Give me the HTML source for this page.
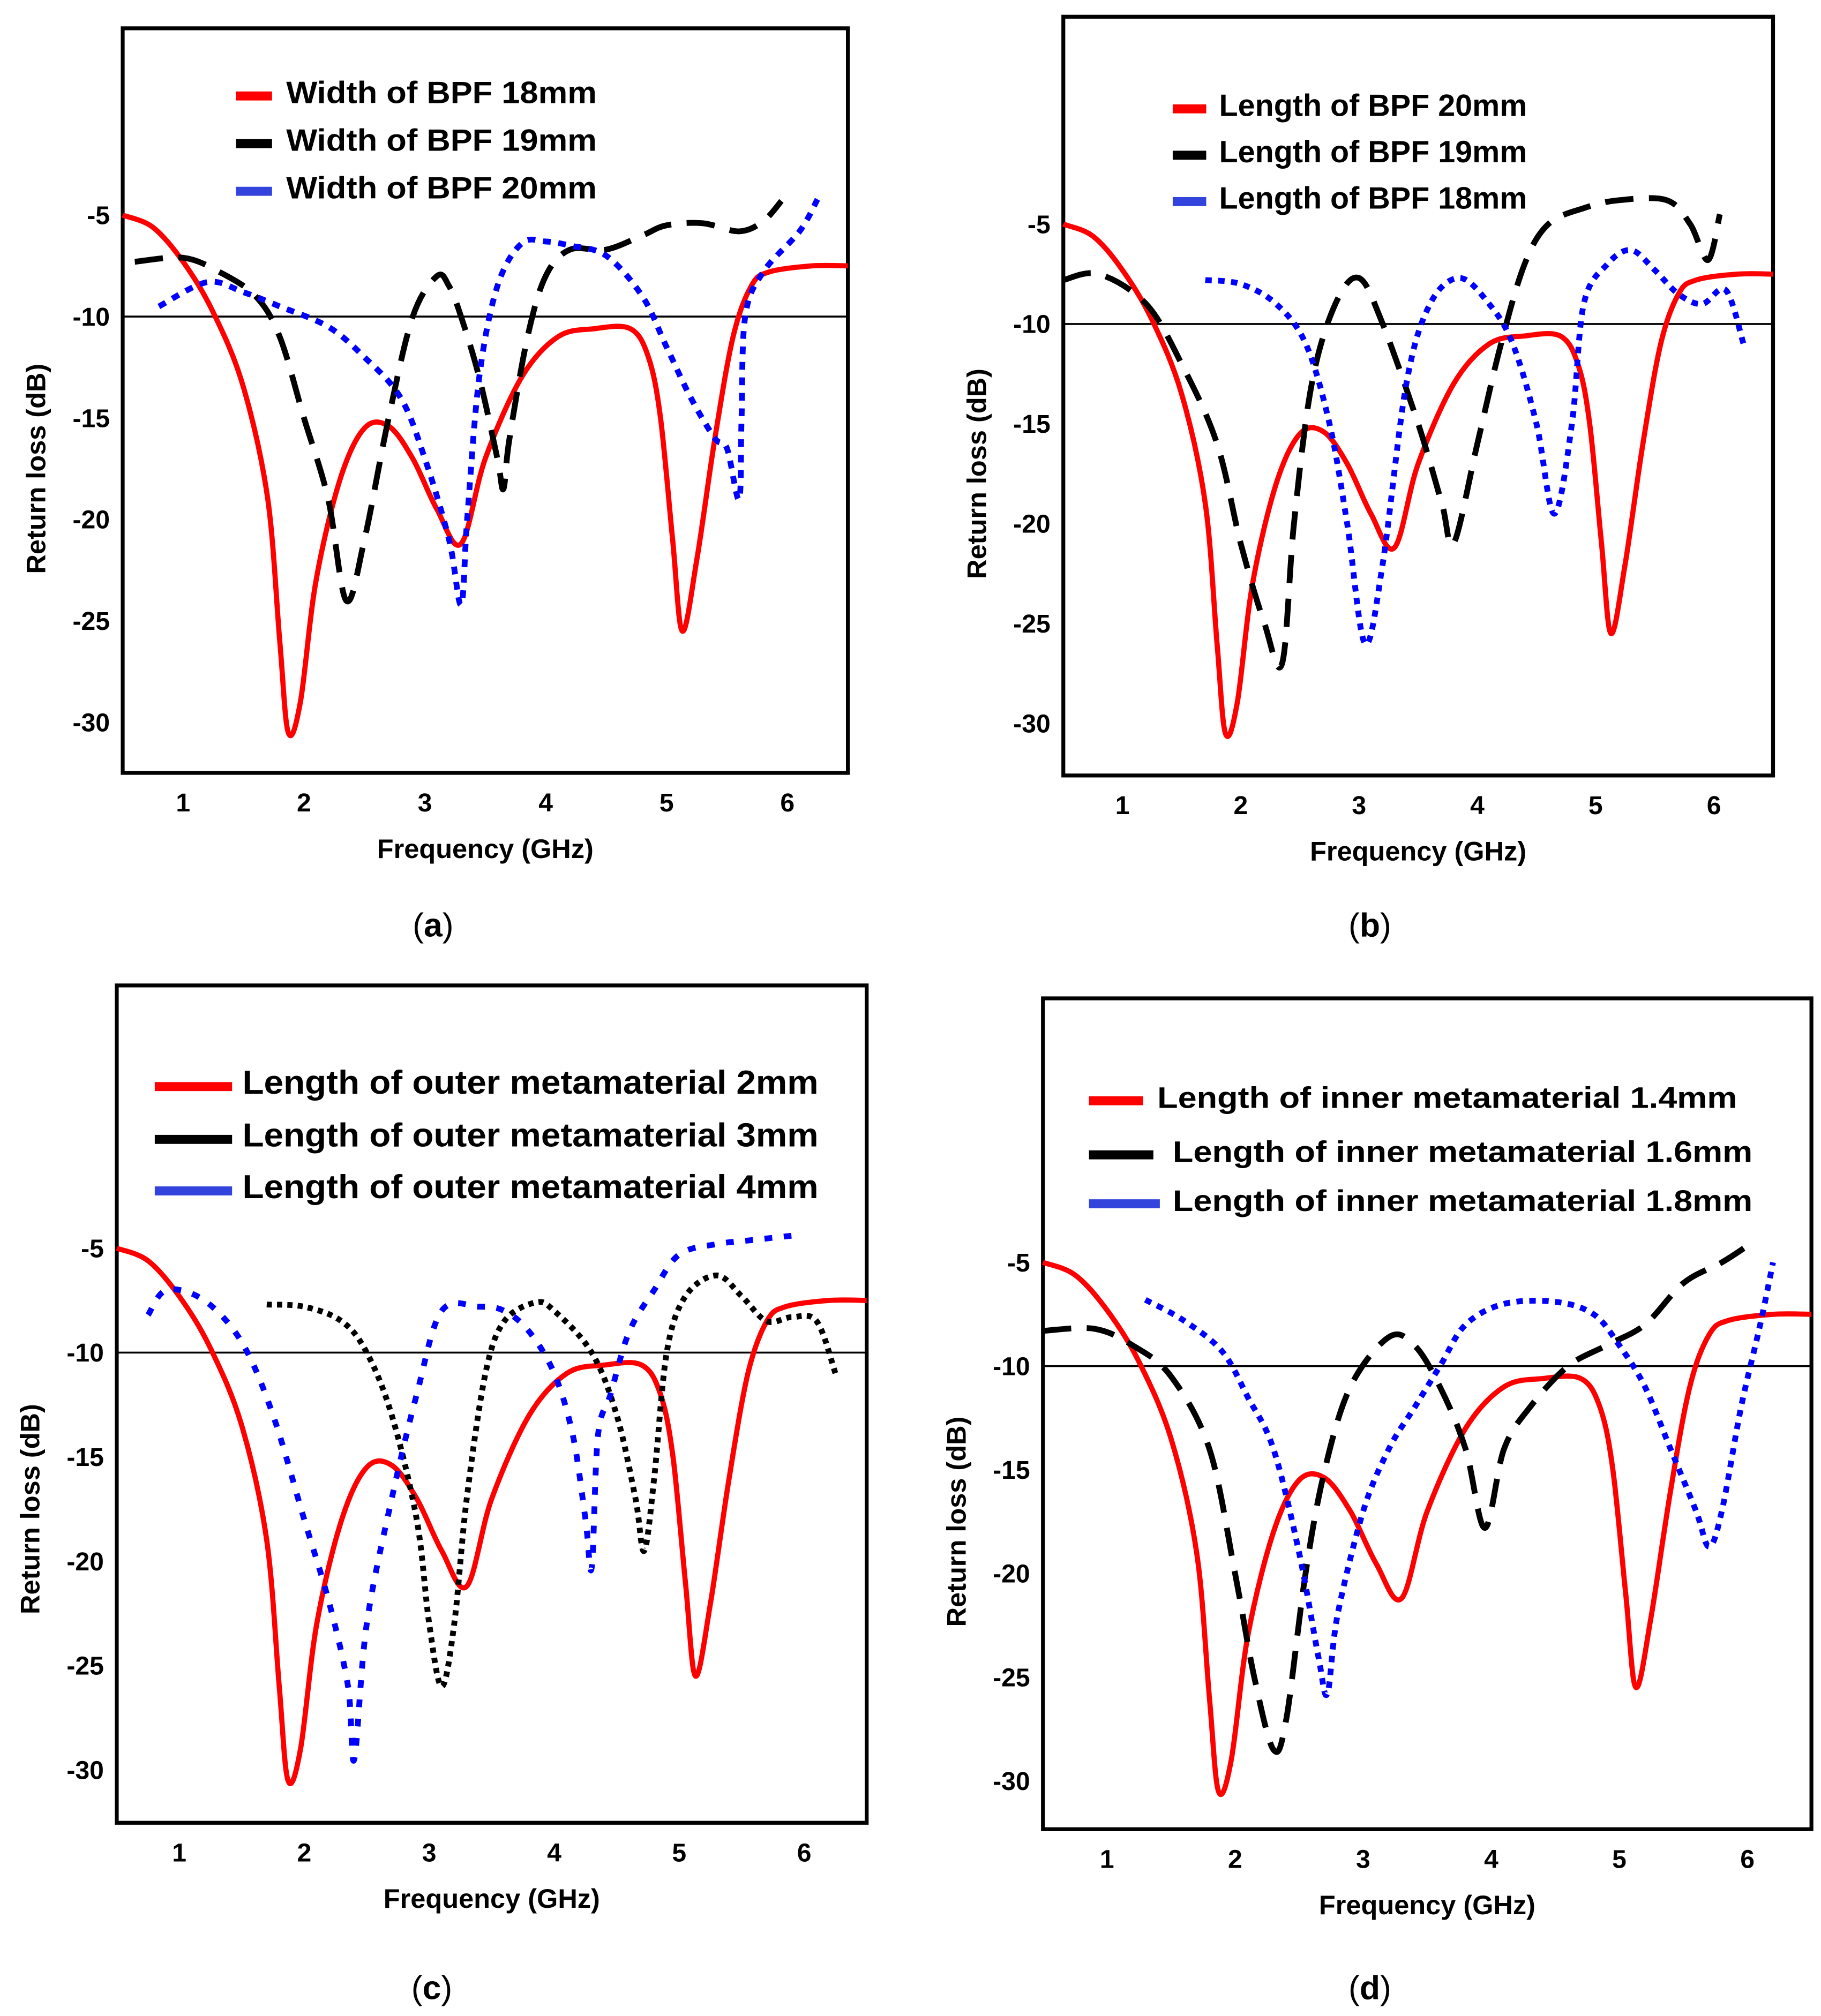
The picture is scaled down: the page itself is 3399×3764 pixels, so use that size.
<!DOCTYPE html>
<html><head><meta charset="utf-8">
<style>
html,body{margin:0;padding:0;background:#fff;}
svg{display:block;}
text{font-family:"Liberation Sans",Arial,sans-serif;}
</style></head>
<body>
<svg id="fig" width="3399" height="3764" viewBox="0 0 1413 1565" xmlns="http://www.w3.org/2000/svg"></svg>
<script>
// Shared red curve data (GHz, dB)
const redF = [0.5,0.75,1,1.25,1.5,1.7,1.8,1.87,1.97,2.1,2.3,2.5,2.7,2.9,3.1,3.3,3.5,3.8,4.1,4.4,4.7,4.85,4.95,5.05,5.13,5.25,5.4,5.55,5.7,5.85,6.2,6.5];
const redV = [-5,-5.6,-7.3,-9.8,-13.5,-19,-26,-30.5,-29,-23,-18,-15.5,-15.4,-17,-19.5,-21.2,-17,-13,-11,-10.6,-10.6,-12,-15,-21,-25.5,-22,-16,-11,-8.5,-7.8,-7.5,-7.5];

const aBlackF=[0.6,1.0,1.3,1.6,1.8,2.0,2.2,2.35,2.5,2.7,2.9,3.1,3.2,3.3,3.45,3.6,3.65,3.7,3.85,4.0,4.2,4.5,4.8,5.0,5.3,5.6,5.8,5.95];
const aBlackV=[-7.3,-7.1,-7.8,-9,-11,-15,-19,-24,-21,-15,-10,-8,-8.5,-10,-13,-17,-18.5,-16,-11,-8,-6.7,-6.7,-6,-5.5,-5.4,-5.8,-5.3,-4.3];
const aBlueF=[0.8,1.2,1.5,1.8,2.2,2.5,2.8,3.0,3.2,3.3,3.35,3.45,3.6,3.8,4.0,4.2,4.5,4.8,5.0,5.2,5.4,5.5,5.6,5.62,5.65,5.8,6.1,6.25];
const aBlueV=[-9.5,-8.3,-8.8,-9.5,-10.5,-12,-14,-17,-21,-24.2,-20,-13,-8.5,-6.4,-6.3,-6.5,-7,-9,-11.5,-14,-16,-16.5,-19,-15,-10,-7.8,-5.8,-4.2];

const bBlackF=[0.5,0.8,1.2,1.5,1.8,2.0,2.2,2.35,2.45,2.6,2.8,3.0,3.2,3.5,3.7,3.8,4.0,4.2,4.4,4.6,4.9,5.2,5.6,5.8,5.95,6.05];
const bBlackV=[-7.8,-7.5,-9,-12,-16,-21,-25,-27,-20,-13,-9,-7.7,-10,-15,-19,-21,-16,-11,-7,-5,-4.2,-3.8,-3.8,-5,-6.8,-4.5];
const bBlueF=[1.7,2.0,2.3,2.55,2.75,2.9,3.05,3.2,3.4,3.6,3.85,4.1,4.3,4.5,4.65,4.8,4.9,5.1,5.3,5.5,5.7,5.9,6.1,6.25];
const bBlueV=[-7.8,-8,-9,-11,-15,-20,-26,-22,-13,-9,-7.7,-9,-11,-15,-19.5,-15,-9,-7,-6.3,-7.3,-8.5,-9,-8.3,-11];

const cBlackF=[1.7,2.0,2.3,2.5,2.7,2.9,3.0,3.1,3.2,3.3,3.45,3.6,3.85,4.0,4.3,4.5,4.65,4.72,4.8,4.9,5.05,5.3,5.5,5.7,5.9,6.1,6.25];
const cBlackV=[-7.7,-7.8,-8.5,-10,-13,-18,-23,-26,-23,-17,-11,-8.5,-7.6,-8,-10,-13,-17,-19.5,-16,-10,-7.3,-6.3,-7.3,-8.5,-8.3,-8.5,-11];
const cBlueF=[0.75,0.9,1.2,1.5,1.75,2.0,2.2,2.35,2.4,2.5,2.7,2.9,3.1,3.4,3.6,3.8,4.0,4.15,4.25,4.3,4.35,4.45,4.6,4.8,5.0,5.3,5.6,5.9];
const cBlueV=[-8.2,-7,-7.5,-9.5,-13,-18,-22,-26,-29.5,-23,-17,-12,-8,-7.8,-8,-9,-11,-14,-18,-20.3,-14,-12,-9,-7,-5.3,-4.8,-4.6,-4.4];

const dBlackF=[0.5,0.9,1.2,1.5,1.8,2.0,2.15,2.3,2.4,2.55,2.7,2.9,3.2,3.4,3.6,3.8,3.95,4.1,4.3,4.6,4.9,5.2,5.5,5.8,6.0];
const dBlackV=[-8.3,-8.2,-9,-10.5,-14,-20,-25,-28.5,-27,-20,-15,-11,-8.6,-9,-11,-14,-17.8,-14,-12,-10,-9,-8,-6,-5,-4.2];
const dBlueF=[1.3,1.6,1.9,2.1,2.3,2.5,2.65,2.72,2.8,3.0,3.2,3.4,3.6,3.8,4.1,4.5,4.8,5.0,5.2,5.4,5.6,5.7,5.8,5.95,6.1,6.2];
const dBlueV=[-6.8,-7.8,-9.3,-11.5,-14,-19,-24,-25.8,-22,-17,-14,-12,-10,-8,-7,-6.9,-7.5,-9,-11,-14,-17,-18.7,-17,-12,-8,-5];

const xTicks=[1,2,3,4,5,6];
const yTicks=[-5,-10,-15,-20,-25,-30];

const NS='http://www.w3.org/2000/svg';
const svg=document.getElementById('fig');
function mk(tag,attrs,parent){const e=document.createElementNS(NS,tag);for(const k in attrs)e.setAttribute(k,attrs[k]);(parent||svg).appendChild(e);return e;}

function pathFrom(F,V,sx,sy){
  const p=F.map((f,i)=>[sx(f),sy(V[i])]);
  let d='M'+p[0][0].toFixed(1)+' '+p[0][1].toFixed(1);
  for(let i=0;i<p.length-1;i++){
    const p0=p[i-1]||p[i],p1=p[i],p2=p[i+1],p3=p[i+2]||p2;
    const c1=[p1[0]+(p2[0]-p0[0])/6,p1[1]+(p2[1]-p0[1])/6];
    const c2=[p2[0]-(p3[0]-p1[0])/6,p2[1]-(p3[1]-p1[1])/6];
    d+=' C'+c1[0].toFixed(1)+' '+c1[1].toFixed(1)+' '+c2[0].toFixed(1)+' '+c2[1].toFixed(1)+' '+p2[0].toFixed(1)+' '+p2[1].toFixed(1);
  }
  return d;
}

function panel(cfg){
  const g=mk('g',{});
  
  
  const sx=f=>cfg.x1+(f-1)*cfg.gx;
  const sy=v=>cfg.y5+(-5-v)*cfg.gy;
  const L=sx(0.5),R=sx(6.5);
  let e=mk('path',{d:`M${L} ${cfg.bottom} L${L} ${cfg.top} L${R} ${cfg.top} L${R} ${cfg.bottom} Z`,fill:'none',stroke:'#000','stroke-width':3},g);
  
  e=mk('line',{x1:L,x2:R,y1:sy(-10),y2:sy(-10),stroke:'#000','stroke-width':1.5},g);
  
  xTicks.forEach(t=>{const tx=mk('text',{x:sx(t),y:cfg.bottom+30,'font-size':20,'font-weight':'bold','text-anchor':'middle'},g);tx.textContent=t;
    });
  yTicks.forEach(t=>{const tx=mk('text',{x:L-10,y:sy(t)+7,'font-size':20,'font-weight':'bold','text-anchor':'end'},g);tx.textContent=t;
    });
  e=mk('text',{x:(L+R)/2,y:cfg.bottom+66,'font-size':21,'font-weight':'bold','text-anchor':'middle'},g);e.textContent='Frequency (GHz)';
  
  const ym=(sy(-10)+sy(-25))/2;
  e=mk('text',{x:0,y:0,'font-size':21,'font-weight':'bold','text-anchor':'middle',transform:`translate(${L-60},${ym}) rotate(-90)`},g);e.textContent='Return loss (dB)';
  
  cfg.series.forEach((s,i)=>{
    const st=cfg.styles[i];
    const p=mk('path',{d:pathFrom(s[0],s[1],sx,sy),fill:'none',stroke:st[0],'stroke-width':st[1],'stroke-dasharray':st[2],'stroke-linejoin':'round'},g);
    
    
  });
  const lc=['#f00','#000','#3344dd'];
  cfg.legend.forEach((l,i)=>{
    const r=mk('rect',{x:l.sx,y:l.y-9,width:l.sw,height:7,fill:lc[i]},g);
    
    const t=mk('text',{x:l.tx,y:l.y,'font-size':cfg.lfs,'font-weight':'bold',textLength:l.w,lengthAdjust:'spacingAndGlyphs'},g);t.textContent=l.t;
    
  });
  e=mk('text',{x:cfg.capX,y:cfg.capY,'font-size':26,'text-anchor':'middle','font-family':'Liberation Serif, serif'},g);
  e.innerHTML='(<tspan font-weight="bold">'+cfg.id+'</tspan>)';
  
}

panel({id:'a',x1:142,gx:93.8,y5:167,gy:15.75,top:22,bottom:600,capX:336,capY:727,lfs:24,
  styles:[['#f00',4,'none'],['#000',4.5,'22 12'],['#00f',4.5,'6 6']],
  series:[[redF,redV],[aBlackF,aBlackV],[aBlueF,aBlueV]],
  legend:[{sx:183,sw:28,tx:222,y:80,w:241,t:'Width of BPF 18mm'},{sx:183,sw:28,tx:222,y:117,w:241,t:'Width of BPF 19mm'},{sx:183,sw:28,tx:222,y:154,w:241,t:'Width of BPF 20mm'}]});
panel({id:'b',x1:871,gx:91.8,y5:174,gy:15.5,top:13,bottom:602,capX:1063,capY:727,lfs:24,
  styles:[['#f00',4,'none'],['#000',4.5,'22 12'],['#00f',4.5,'5 5']],
  series:[[redF,redV],[bBlackF,bBlackV],[bBlueF,bBlueV]],
  legend:[{sx:910,sw:26,tx:946,y:90,w:239,t:'Length of BPF 20mm'},{sx:910,sw:26,tx:946,y:126,w:239,t:'Length of BPF 19mm'},{sx:910,sw:26,tx:946,y:162,w:239,t:'Length of BPF 18mm'}]});
panel({id:'c',x1:139,gx:97,y5:969,gy:16.2,top:765,bottom:1415,capX:335,capY:1552,lfs:26,
  styles:[['#f00',4,'none'],['#000',4.5,'4 4'],['#00f',4.5,'6 9']],
  series:[[redF,redV],[cBlackF,cBlackV],[cBlueF,cBlueV]],
  legend:[{sx:120,sw:60,tx:188,y:849,w:447,t:'Length of outer metamaterial 2mm'},{sx:120,sw:60,tx:188,y:890,w:447,t:'Length of outer metamaterial 3mm'},{sx:120,sw:60,tx:188,y:930,w:447,t:'Length of outer metamaterial 4mm'}]});
panel({id:'d',x1:859,gx:99.4,y5:980,gy:16.1,top:775,bottom:1420,capX:1063,capY:1552,lfs:23,
  styles:[['#f00',4,'none'],['#000',4.5,'22 12'],['#00f',4.5,'5 5']],
  series:[[redF,redV],[dBlackF,dBlackV],[dBlueF,dBlueV]],
  legend:[{sx:845,sw:42,tx:898,y:860,w:450,t:'Length of inner metamaterial 1.4mm'},{sx:845,sw:50,tx:910,y:902,w:450,t:'Length of inner metamaterial 1.6mm'},{sx:845,sw:55,tx:910,y:940,w:450,t:'Length of inner metamaterial 1.8mm'}]});
</script>
</body></html>
